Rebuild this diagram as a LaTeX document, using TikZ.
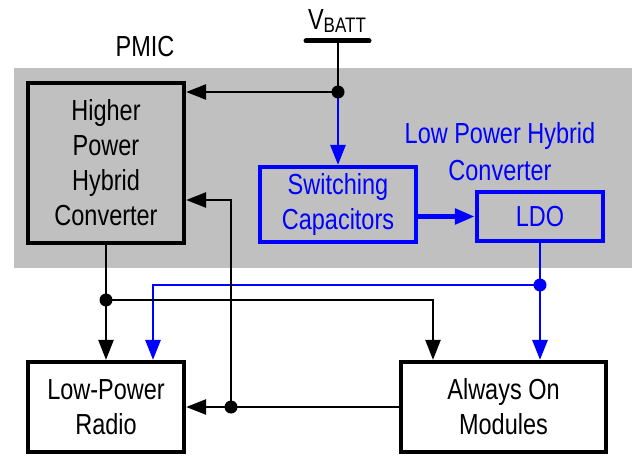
\documentclass[tikz,border=0pt]{standalone}
\usepackage{fontspec}
\setmainfont{Liberation Sans}[FakeStretch=0.81]
\usepackage{xcolor}
\usetikzlibrary{arrows.meta, positioning, calc}

\definecolor{pmicgray}{RGB}{192,192,192}
\definecolor{lpblue}{RGB}{0,0,255}

\begin{document}
\begin{tikzpicture}[x=1pt, y=-1pt,
    block/.style={rectangle, draw=black, line width=4.2pt, fill=white, align=center, inner sep=0pt, font=\fontsize{29}{35}\selectfont},
    lpblock/.style={block, draw=lpblue, text=lpblue, fill=none},
    wire/.style={line width=2.4pt, draw=black},
    bwire/.style={line width=2.8pt, draw=lpblue},
    arr/.style={-{Triangle[length=20pt, width=15pt]}},
    dot/.style={circle, fill=#1, inner sep=0pt, minimum size=13pt},
    lbl/.style={font=\fontsize{29}{37}\selectfont, align=center},
]
    \useasboundingbox (0,0) rectangle (637,457);

    % PMIC area
    \fill[pmicgray] (14,68) rectangle (632,268);
    \node[lbl] (pmic) at (145,47) {PMIC};

    % Blocks
    \node[block, fill=pmicgray, minimum width=156, minimum height=160] (hphc) at (106,163) {Higher\\Power\\Hybrid\\Converter};
    \node[lpblock, minimum width=156, minimum height=75] (sc) at (338,204.5) {Switching\\Capacitors};
    \node[lpblock, minimum width=126, minimum height=49] (ldo) at (540,216.5) {LDO};
    \node[lbl, text=lpblue] (lphc) at (500,152) {Low Power Hybrid\\Converter};
    \node[block, minimum width=156, minimum height=90] (radio) at (106,407) {Low-Power\\Radio};
    \node[block, minimum width=205, minimum height=90] (aom) at (503.5,407) {Always On\\Modules};

    % VBATT supply
    \node[font=\fontsize{29}{29}\selectfont, anchor=base] (vbatt) at (337,30) {V\raisebox{-0.15ex}{\fontsize{21}{21}\selectfont BATT}};
    \coordinate (rail) at (338,41);
    \draw[line width=5pt, line cap=round] (306,41) -- (369,41);

    % Junctions
    \coordinate (tapV) at (338,92);
    \coordinate (tapL) at (540,285);
    \coordinate (bendL) at (153,285);
    \coordinate (tapH) at (106,300);
    \coordinate (bendH) at (433,300);
    \coordinate (tapA) at (231,407);
    \coordinate (bendA) at (231,200);

    % Connections
    \draw[wire] (rail) -- (tapV);
    \draw[wire, arr] (tapV) -- (tapV -| hphc.east);
    \draw[bwire, arr] (tapV) -- (sc.north);
    \draw[lpblue, line width=5.5pt, arr] (ldo.west -| sc.east) -- (ldo.west);
    \draw[bwire] (ldo.south) -- (tapL);
    \draw[bwire, arr] (tapL) -- (tapL |- aom.north);
    \draw[bwire, arr] (tapL) -- (bendL) -- (bendL |- radio.north);
    \draw[wire] (hphc.south) -- (tapH);
    \draw[wire, arr] (tapH) -- (radio.north);
    \draw[wire, arr] (tapH) -- (bendH) -- (bendH |- aom.north);
    \draw[wire, arr] (aom.west) -- (radio.east);
    \draw[wire, arr] (tapA) -- (bendA) -- (bendA -| hphc.east);

    \node[dot=black] at (tapV) {};
    \node[dot=lpblue] at (tapL) {};
    \node[dot=black] at (tapH) {};
    \node[dot=black] at (tapA) {};
\end{tikzpicture}
\end{document}
